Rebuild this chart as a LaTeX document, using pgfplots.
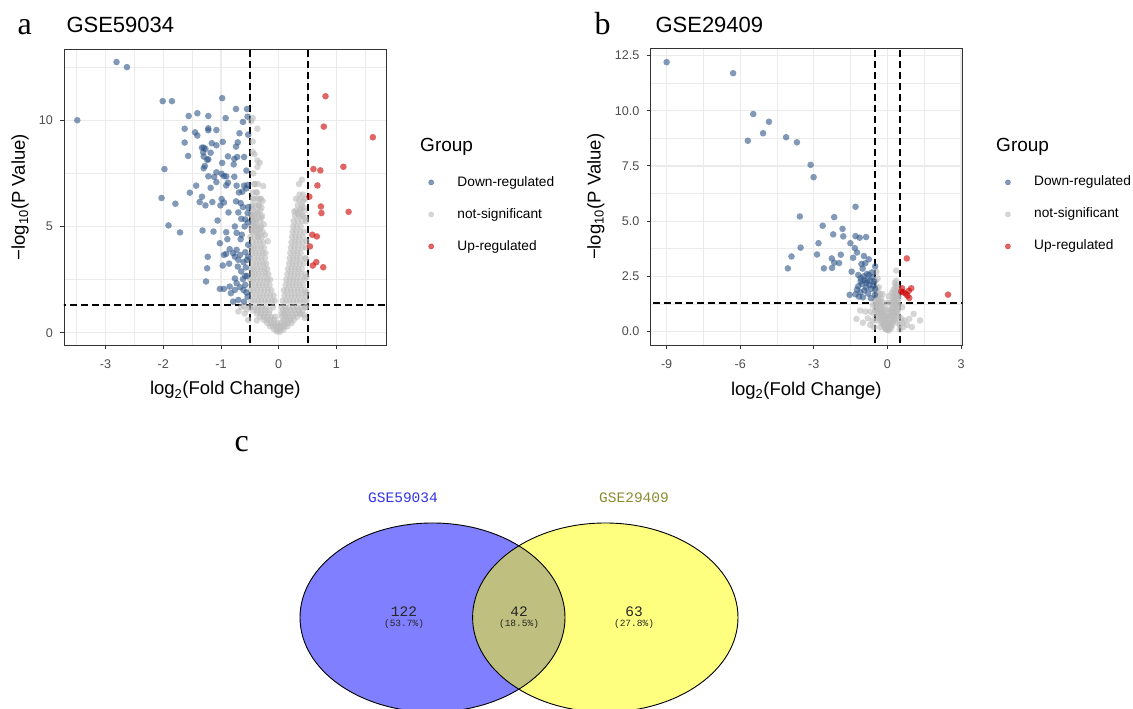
\documentclass[border=0pt]{standalone}
\usepackage{fontspec}
\setmainfont{Liberation Sans}
\newfontfamily\panelfont{Liberation Serif}
\newfontfamily\vennfont{Liberation Mono}
\usepackage{pgfplots}
\pgfplotsset{compat=1.18}
\definecolor{downc}{HTML}{2F5688}
\definecolor{nsc}{HTML}{BBBBBB}
\definecolor{upc}{HTML}{CC0000}
\definecolor{gridc}{HTML}{EBEBEB}
\definecolor{framec}{HTML}{333333}
\definecolor{tickc}{HTML}{4D4D4D}
\definecolor{vblue}{RGB}{0,0,255}
\definecolor{vyellow}{RGB}{255,255,0}
\definecolor{vlabA}{HTML}{3333E6}
\definecolor{vlabB}{HTML}{8B8B30}

\pgfplotsset{
  volcano/.style={
    scale only axis, anchor=north west, clip=true,
    axis line style={draw=framec, line width=0.9pt},
    tick pos=left, tick align=outside,
    major tick length=4pt, minor tick length=0pt,
    every tick/.style={draw=framec, line width=0.9pt},
    grid=both,
    major grid style={draw=gridc, line width=1.2pt},
    minor grid style={draw=gridc, line width=0.6pt},
    tick label style={font=\fontsize{12.6}{14}\selectfont, text=tickc, inner sep=0pt},
    xticklabel style={yshift=-10.3pt},
    yticklabel style={xshift=-7pt},
    every axis x label/.style={at={(axis description cs:0.5,-0.169)}, anchor=base,
      font=\fontsize{18.5}{20}\selectfont},
    xlabel={log\textsubscript{2}(Fold Change)},
    ylabel={−log\textsubscript{10}(P Value)},
    legend style={anchor=north west, draw=none, fill=none, inner sep=0pt, outer sep=0pt,
      inner xsep=0pt, inner ysep=0pt,
      row sep=19pt, column sep=23.5pt, font=\fontsize{13.7}{15}\selectfont,
      cells={anchor=base west},
      nodes={inner sep=0pt, anchor=base west, text height=10pt, text depth=3pt}},
  },
  ns/.style={only marks, mark=*, mark size=3.3pt, forget plot, color=nsc,
    mark options={draw opacity=0, fill=nsc, fill opacity=0.6}},
  down/.style={only marks, mark=*, mark size=3.3pt, forget plot, color=downc,
    mark options={draw opacity=0, fill=downc, fill opacity=0.6}},
  up/.style={only marks, mark=*, mark size=3.3pt, forget plot, color=upc,
    mark options={draw opacity=0, fill=upc, fill opacity=0.6}},
  cut/.style={black, line width=1.8pt, dash pattern=on 7pt off 4pt, forget plot},
  keydown/.style={legend image code/.code={\fill[downc, opacity=0.6] (2.6pt,3.6pt) circle (2.6pt);}},
  keyns/.style={legend image code/.code={\fill[nsc, opacity=0.6] (2.6pt,3.6pt) circle (2.6pt);}},
  keyup/.style={legend image code/.code={\fill[upc, opacity=0.6] (2.6pt,3.6pt) circle (2.6pt);}},
}

\begin{document}
\begin{tikzpicture}
\path[use as bounding box] (0pt,0pt) rectangle (1133pt,709pt);

% ---------------- panel a ----------------
\node[anchor=base west, font=\panelfont\fontsize{32}{34}\selectfont] at (14pt,674pt) {a};
\node[anchor=base west, font=\fontsize{22}{24}\selectfont] at (63pt,676pt) {GSE59034};
\begin{axis}[volcano,
  at={(64pt,659.7pt)}, width=322.7pt, height=295.7pt,
  xmin=-3.72, xmax=1.87, ymin=-0.58, ymax=13.34,
  xtick={-3,-2,-1,0,1}, xticklabels={-3,-2,-1,0,1},
  ytick={0,5,10}, yticklabels={0,5,10},
  minor xtick={-3.5,-2.5,-1.5,-0.5,0.5,1.5}, minor ytick={2.5,7.5,12.5},
  every axis y label/.style={at={(axis description cs:-0.121,0.5)}, rotate=90, anchor=base,
    font=\fontsize{18.5}{20}\selectfont},
  legend style={at={(axis description cs:1.1292,0.5715)}},
]
% not significant
\addplot[ns] coordinates {
(-0.45,10.1)(-0.48,9.95)(-0.37,9.6)(-0.45,9.0)(-0.45,8.5)(-0.42,8.4)(-0.37,8.1)(-0.33,8.0)
(-0.37,7.8)(-0.27,6.9)(-0.45,6.3)(-0.33,6.3)(-0.28,6.2)(-0.3,5.9)(-0.48,5.6)(-0.44,5.5)
(-0.36,5.6)(-0.3,5.4)(-0.45,5.2)(-0.4,5.0)(-0.32,4.9)(-0.47,4.8)(-0.38,4.7)(-0.35,4.5)
(-0.42,7.0)(-0.38,6.6)(-0.35,6.0)(-0.47,5.9)(-0.41,5.3)(-0.26,5.1)(-0.24,4.6)(-0.19,4.3)
(0.4,7.2)(0.35,7.0)(0.3,6.3)(0.36,6.25)(0.42,6.2)(0.45,6.3)(0.27,5.7)(0.33,5.6)(0.4,5.5)
(0.46,5.4)(0.38,5.8)(0.43,5.9)(0.48,4.3)(0.47,3.5)(0.48,2.6)(0.48,1.9)(0.47,1.2)
(-0.48,1.5)(-0.42,1.5)(-0.36,1.5)(-0.3,1.5)(-0.24,1.5)(-0.18,1.5)(-0.12,1.5)(-0.07,1.5)
(-0.46,1.75)(-0.39,1.75)(-0.33,1.75)(-0.27,1.75)(-0.21,1.75)(-0.15,1.75)(-0.09,1.75)
(-0.49,2.0)(-0.43,2.0)(-0.37,2.0)(-0.31,2.0)(-0.25,2.0)(-0.19,2.0)(-0.13,2.0)
(-0.47,2.25)(-0.4,2.25)(-0.34,2.25)(-0.28,2.25)(-0.22,2.25)(-0.16,2.25)
(-0.49,2.5)(-0.44,2.5)(-0.38,2.5)(-0.32,2.5)(-0.26,2.5)(-0.2,2.5)(-0.15,2.5)
(-0.46,2.75)(-0.41,2.75)(-0.35,2.75)(-0.29,2.75)(-0.23,2.75)(-0.18,2.75)
(-0.48,3.0)(-0.43,3.0)(-0.37,3.0)(-0.31,3.0)(-0.25,3.0)(-0.2,3.0)
(-0.45,3.25)(-0.39,3.25)(-0.33,3.25)(-0.27,3.25)(-0.22,3.25)
(-0.49,3.5)(-0.42,3.5)(-0.36,3.5)(-0.3,3.5)(-0.24,3.5)
(-0.46,3.75)(-0.4,3.75)(-0.34,3.75)(-0.28,3.75)(-0.23,3.75)
(-0.48,4.0)(-0.43,4.0)(-0.37,4.0)(-0.31,4.0)(-0.26,4.0)
(-0.45,4.25)(-0.39,4.25)(-0.33,4.25)(-0.27,4.25)
(-0.49,4.5)(-0.42,4.5)(-0.36,4.5)(-0.3,4.5)
(-0.46,4.75)(-0.4,4.75)(-0.34,4.75)(-0.28,4.75)
(-0.48,5.0)(-0.43,5.0)(-0.37,5.0)(-0.31,5.0)
(-0.45,5.25)(-0.39,5.25)(-0.33,5.25)
(-0.47,5.5)(-0.41,5.5)(-0.35,5.5)(-0.29,5.5)
(-0.44,5.75)(-0.38,5.75)(-0.32,5.75)
(-0.46,6.0)(-0.4,6.0)(-0.34,6.0)
(-0.43,6.3)(-0.37,6.3)(-0.31,6.3)
(-0.45,6.6)(-0.39,6.6)(-0.42,7.0)(-0.36,7.0)(-0.44,7.5)
(0.07,1.5)(0.13,1.5)(0.19,1.5)(0.25,1.5)(0.31,1.5)(0.37,1.5)(0.43,1.5)(0.48,1.5)
(0.1,1.75)(0.16,1.75)(0.22,1.75)(0.28,1.75)(0.34,1.75)(0.4,1.75)(0.46,1.75)
(0.09,2.0)(0.15,2.0)(0.21,2.0)(0.27,2.0)(0.33,2.0)(0.39,2.0)(0.45,2.0)
(0.12,2.25)(0.18,2.25)(0.24,2.25)(0.3,2.25)(0.36,2.25)(0.42,2.25)
(0.13,2.5)(0.19,2.5)(0.25,2.5)(0.31,2.5)(0.37,2.5)(0.44,2.5)
(0.15,2.75)(0.21,2.75)(0.27,2.75)(0.33,2.75)(0.39,2.75)(0.46,2.75)
(0.16,3.0)(0.22,3.0)(0.28,3.0)(0.34,3.0)(0.4,3.0)
(0.18,3.25)(0.24,3.25)(0.3,3.25)(0.36,3.25)(0.43,3.25)
(0.19,3.5)(0.25,3.5)(0.31,3.5)(0.37,3.5)(0.45,3.5)
(0.2,3.75)(0.26,3.75)(0.32,3.75)(0.38,3.75)
(0.21,4.0)(0.27,4.0)(0.33,4.0)(0.4,4.0)(0.47,4.0)
(0.22,4.25)(0.28,4.25)(0.34,4.25)(0.41,4.25)
(0.23,4.5)(0.29,4.5)(0.35,4.5)(0.42,4.5)
(0.24,4.75)(0.3,4.75)(0.37,4.75)(0.44,4.75)
(0.25,5.0)(0.31,5.0)(0.38,5.0)
(0.26,5.25)(0.33,5.25)(0.4,5.25)(0.47,5.25)
(0.28,5.5)(0.35,5.5)(0.42,5.5)
(0.3,5.75)(0.37,5.75)(0.44,5.75)
(0.33,6.0)(0.4,6.0)(0.36,6.5)(0.42,6.5)
(-0.03,0.05)(0.02,0.05)
(-0.08,0.15)(-0.03,0.15)(0.03,0.15)(0.08,0.15)
(-0.15,0.3)(-0.1,0.3)(-0.05,0.3)(0,0.3)(0.05,0.3)(0.1,0.3)(0.15,0.3)
(-0.2,0.45)(-0.14,0.45)(-0.08,0.45)(-0.02,0.45)(0.04,0.45)(0.1,0.45)(0.16,0.45)(0.22,0.45)
(-0.26,0.6)(-0.2,0.6)(-0.14,0.6)(-0.08,0.6)(0.08,0.6)(0.14,0.6)(0.2,0.6)(0.26,0.6)
(-0.32,0.75)(-0.26,0.75)(-0.2,0.75)(-0.13,0.75)(-0.06,0.75)(0.06,0.75)(0.12,0.75)(0.18,0.75)(0.25,0.75)(0.32,0.75)
(-0.38,0.9)(-0.31,0.9)(-0.24,0.9)(-0.17,0.9)(0.05,0.9)(0.1,0.9)(0.16,0.9)(0.23,0.9)(0.3,0.9)(0.37,0.9)
(-0.44,1.05)(-0.37,1.05)(-0.3,1.05)(-0.23,1.05)(-0.16,1.05)(0.07,1.05)(0.13,1.05)(0.2,1.05)(0.27,1.05)(0.34,1.05)(0.41,1.05)
(-0.5,1.2)(-0.43,1.2)(-0.36,1.2)(-0.29,1.2)(-0.22,1.2)(-0.1,1.2)(0.05,1.2)(0.11,1.2)(0.18,1.2)(0.25,1.2)(0.32,1.2)(0.39,1.2)(0.46,1.2)
(-0.65,1.2)(-0.59,0.9)(-0.38,0.58)(0.37,0.9)(0.44,0.83)(-0.55,1.1)(-0.6,1.25)(-0.53,0.6)(0.45,0.7)(-0.7,1.0)
};
% down-regulated
\addplot[down] coordinates {
(-2.81,12.74)(-2.63,12.5)(-3.49,10.0)(-2.01,10.9)(-1.85,10.9)(-0.98,11.04)(-0.74,10.53)
(-0.55,10.53)(-1.41,10.33)(-1.56,10.2)(-1.22,10.2)(-0.92,10.1)(-0.54,10.17)(-0.62,9.92)
(-1.63,9.6)(-1.45,9.43)(-1.41,9.28)(-1.22,9.62)(-1.22,9.53)(-1.08,9.54)(-0.68,9.39)
(-0.53,9.32)(-1.63,8.95)(-1.16,8.92)(-1.08,8.82)(-0.97,8.98)(-0.74,8.76)(-0.71,8.96)
(-1.33,8.71)(-1.30,8.71)(-1.27,8.65)(-1.31,8.49)(-1.18,8.47)(-1.57,8.32)(-1.30,8.29)
(-1.22,8.16)(-1.24,8.14)(-0.88,8.3)(-0.72,8.27)(-0.60,8.27)(-0.77,8.18)(-0.78,7.92)
(-0.98,7.99)(-1.28,7.85)(-1.30,7.74)(-1.98,7.70)(-0.56,7.63)(-1.08,7.55)(-0.99,7.48)
(-0.95,7.37)(-0.91,7.36)(-1.22,7.36)(-1.12,7.33)(-0.77,7.34)(-1.08,7.09)(-0.88,7.06)
(-1.43,6.92)(-1.18,6.82)(-0.91,6.93)(-0.73,6.92)(-0.60,6.92)(-0.54,6.95)(-0.69,6.6)
(-0.63,6.64)(-0.56,6.79)(-1.54,6.59)(-2.03,6.34)(-1.33,6.4)(-0.74,6.18)(-0.66,6.1)
(-1.79,6.07)(-1.37,6.15)(-1.15,6.15)(-0.99,6.29)(-0.95,6.13)(-1.27,5.99)(-1.01,5.99)
(-0.62,5.91)(-0.53,5.91)(-0.87,5.66)(-0.70,5.66)(-0.54,5.63)(-0.65,5.36)(-0.58,5.33)
(-1.06,5.28)(-0.53,5.19)(-1.91,5.05)(-0.76,5.0)(-0.59,5.0)(-1.71,4.72)(-1.32,4.81)
(-1.13,4.76)(-0.91,4.73)(-0.73,4.70)(-0.64,4.61)(-0.66,4.40)(-0.89,4.40)(-1.02,4.21)
(-0.53,4.14)(-0.85,3.93)(-0.73,3.9)(-0.79,3.74)(-0.67,3.66)(-0.95,3.66)(-0.91,3.71)
(-1.23,3.57)(-0.55,3.43)(-0.61,3.32)(-0.86,3.25)(-0.97,3.16)(-1.24,3.03)(-0.71,3.11)
(-0.57,3.07)(-0.65,2.88)(-0.55,2.67)(-0.76,2.55)(-1.26,2.41)(-0.62,2.52)(-0.73,2.33)
(-0.58,2.25)(-0.85,2.17)(-0.95,2.06)(-0.83,1.86)(-0.76,2.01)(-0.67,2.14)(-0.56,1.89)
(-0.70,1.54)(-0.54,1.70)(-0.60,1.46)(-0.79,1.46)(-0.61,2.01)(-1.02,2.06)(-0.58,2.67)
(-0.70,3.43)(-0.76,3.58)(-0.53,3.58)(-0.58,3.79)
};
% up-regulated
\addplot[up] coordinates {
(0.81,11.13)(0.78,9.70)(1.63,9.20)(0.60,7.70)(0.72,7.64)(1.12,7.81)(0.67,6.93)(0.53,6.40)
(0.73,5.94)(0.74,5.63)(1.21,5.69)(0.58,4.61)(0.66,4.53)(0.54,4.06)(0.65,3.32)(0.59,3.16)
(0.77,3.08)
};
\addplot[cut] coordinates {(-0.5,-1)(-0.5,14)};
\addplot[cut] coordinates {(0.5,-1)(0.5,14)};
\addplot[cut] coordinates {(-4,1.301)(2,1.301)};
\addlegendimage{keydown}\addlegendentry{Down-regulated}
\addlegendimage{keyns}\addlegendentry{not-significant}
\addlegendimage{keyup}\addlegendentry{Up-regulated}
\end{axis}
\node[anchor=base west, font=\fontsize{19}{21}\selectfont] at (416.7pt,557pt) {Group};

% ---------------- panel b ----------------
\node[anchor=base west, font=\panelfont\fontsize{32}{34}\selectfont] at (591pt,674pt) {b};
\node[anchor=base west, font=\fontsize{22}{24}\selectfont] at (652pt,676pt) {GSE29409};
\begin{axis}[volcano,
  at={(650.7pt,660.3pt)}, width=311.3pt, height=296.3pt,
  xmin=-9.65, xmax=3.04, ymin=-0.61, ymax=12.81,
  xtick={-9,-6,-3,0,3}, xticklabels={-9,-6,-3,0,3},
  ytick={0,2.5,5,7.5,10,12.5}, yticklabels={0.0,2.5,5.0,7.5,10.0,12.5},
  minor xtick={-7.5,-4.5,-1.5,1.5}, minor ytick={1.25,3.75,6.25,8.75,11.25},
  every axis y label/.style={at={(axis description cs:-0.161,0.5)}, rotate=90, anchor=base,
    font=\fontsize{18.5}{20}\selectfont},
  legend style={at={(axis description cs:1.1385,0.5704)}},
]
\addplot[ns] coordinates {
(0.36,2.76)(0.3,2.2)(0.35,2.1)(0.25,1.9)(0.4,1.7)(-0.45,2.7)(-0.4,2.4)(-0.35,2.0)(-0.3,1.7)
(-0.25,1.5)(-0.2,1.3)(-0.15,1.1)(-0.1,0.9)(-0.05,0.6)(0,0.2)(0.05,0.4)(0.1,0.7)(0.15,0.9)
(0.2,1.1)(0.25,1.3)(0.3,1.5)(0.35,1.2)(0.4,1.0)(0.45,0.7)(-0.45,1.2)(-0.5,1.0)(-0.55,0.8)
(-0.45,0.5)(-0.35,0.6)(-0.25,0.4)(-0.15,0.3)(-0.05,0.1)(0.05,0.05)(0.1,0.2)(0.2,0.3)
(0.3,0.5)(0.4,0.4)(0.5,0.3)(0.55,0.6)(0.6,0.4)(-0.6,0.5)(-0.7,0.3)(-0.8,0.6)(-0.9,0.9)
(-1.11,0.95)(-1.26,0.57)(-1.0,0.4)(0.7,0.5)(0.89,0.57)(1.07,0.8)(1.33,0.5)(0.8,0.3)(1.0,0.2)
(-0.4,1.45)(-0.3,1.1)(-0.2,0.8)(-0.1,0.5)(0.0,0.7)(0.1,1.0)(0.2,1.5)(0.28,1.75)(0.12,1.3)
(-0.05,1.0)(-0.5,1.4)(-0.38,0.9)(0.15,0.15)(-0.1,0.15)(0.25,0.9)(0.33,0.8)(-0.6,1.2)
(-0.7,0.9)(0.6,1.1)(0.5,0.1)(-0.3,0.2)(0.0,1.3)(0.45,1.5)(-0.55,0.2)(0.65,0.2)(0.05,1.6)
(-0.2,1.7)(-0.33,1.35)(0.18,1.75)
(-0.05,0.1)(0.05,0.1)
(-0.12,0.25)(-0.04,0.25)(0.04,0.25)(0.12,0.25)
(-0.2,0.4)(-0.12,0.4)(-0.04,0.4)(0.04,0.4)(0.12,0.4)(0.2,0.4)
(-0.28,0.55)(-0.2,0.55)(-0.12,0.55)(0.12,0.55)(0.2,0.55)(0.28,0.55)
(-0.35,0.7)(-0.27,0.7)(-0.19,0.7)(-0.1,0.7)(0.1,0.7)(0.18,0.7)(0.26,0.7)(0.34,0.7)
(-0.42,0.85)(-0.33,0.85)(-0.25,0.85)(-0.15,0.85)(0.15,0.85)(0.23,0.85)(0.31,0.85)(0.4,0.85)
(-0.45,1.0)(-0.37,1.0)(-0.29,1.0)(-0.2,1.0)(0.2,1.0)(0.28,1.0)(0.36,1.0)(0.44,1.0)
(-0.48,1.2)(-0.4,1.2)(-0.32,1.2)(-0.24,1.2)(0.24,1.2)(0.32,1.2)(0.4,1.2)(0.47,1.2)
(-0.46,1.4)(-0.38,1.4)(-0.3,1.4)(0.26,1.4)(0.34,1.4)(0.42,1.4)
(-0.44,1.6)(-0.36,1.6)(0.28,1.6)(0.37,1.6)(0.45,1.6)
(-0.47,1.8)(-0.4,1.8)(0.3,1.8)(0.39,1.8)
(-0.45,2.0)(0.33,2.0)(0.42,2.0)(-0.48,2.3)(0.36,2.3)
};
\addplot[down] coordinates {
(-9.0,12.2)(-6.29,11.70)(-5.47,9.85)(-4.83,9.50)(-5.07,8.98)(-5.69,8.64)(-4.13,8.80)
(-3.69,8.57)(-3.13,7.55)(-3.01,6.99)(-1.30,5.65)(-3.57,5.21)(-2.17,5.18)(-2.64,4.79)
(-1.83,4.65)(-1.30,4.32)(-2.21,4.40)(-1.80,4.31)(-1.13,4.25)(-0.87,4.28)(-2.81,4.0)
(-1.51,4.0)(-3.54,3.80)(-1.33,3.78)(-2.87,3.49)(-1.90,3.48)(-1.24,3.58)(-3.91,3.40)
(-2.27,3.31)(-1.40,3.34)(-0.96,3.42)(-0.76,3.27)(-2.17,3.12)(-1.97,3.10)(-1.06,3.06)
(-0.91,3.09)(-0.50,2.95)(-4.06,2.86)(-2.59,2.86)(-2.26,2.88)(-1.01,2.85)(-1.46,2.71)
(-1.19,2.56)(-0.97,2.50)(-0.76,2.56)(-0.61,2.45)(-0.83,2.30)(-1.04,2.15)(-0.73,2.11)
(-0.54,2.26)(-0.87,1.99)(-0.66,1.93)(-1.09,2.41)(-1.19,2.05)(-1.54,1.66)(-1.30,1.69)
(-1.16,1.58)(-1.0,1.55)(-0.79,1.72)(-0.67,1.51)(-0.51,1.66)(-0.94,1.86)(-0.57,2.08)
(-0.86,2.20)(-0.69,2.30)(-0.50,1.93)(-1.10,1.78)(-1.24,1.90)(-0.63,2.68)(-0.83,2.61)
(-0.93,2.33)(-1.09,2.27)
};
\addplot[up] coordinates {
(0.79,3.31)(0.60,1.96)(0.97,1.96)(0.64,1.78)(0.74,1.72)(0.87,1.84)(0.89,1.52)(0.81,1.63)
(2.47,1.67)(0.56,1.81)
};
\addplot[cut] coordinates {(-0.5,-1)(-0.5,14)};
\addplot[cut] coordinates {(0.5,-1)(0.5,14)};
\addplot[cut] coordinates {(-10,1.301)(4,1.301)};
\addlegendimage{keydown}\addlegendentry{Down-regulated}
\addlegendimage{keyns}\addlegendentry{not-significant}
\addlegendimage{keyup}\addlegendentry{Up-regulated}
\end{axis}
\node[anchor=base west, font=\fontsize{19}{21}\selectfont] at (992.7pt,557pt) {Group};

% ---------------- panel c (Venn) ----------------
\node[anchor=base west, font=\panelfont\fontsize{32}{34}\selectfont] at (231pt,257pt) {c};
\begin{axis}[at={(0pt,0pt)}, anchor=south west, scale only axis, width=1133pt, height=709pt,
  xmin=0, xmax=1133, ymin=0, ymax=709, hide axis, clip=false]
\fill[vblue, fill opacity=0.5] (axis cs:432.5,91.5) ellipse [x radius=132.5, y radius=94.5];
\fill[vyellow, fill opacity=0.5] (axis cs:605.3,91.5) ellipse [x radius=132.7, y radius=94.5];
\draw[black, line width=0.9pt] (axis cs:432.5,91.5) ellipse [x radius=132.5, y radius=94.5];
\draw[black, line width=0.9pt] (axis cs:605.3,91.5) ellipse [x radius=132.7, y radius=94.5];
\node[font=\vennfont\fontsize{14.5}{16}\selectfont, text=vlabA] at (axis cs:403,211) {GSE59034};
\node[font=\vennfont\fontsize{14.5}{16}\selectfont, text=vlabB] at (axis cs:634,211) {GSE29409};
\begin{scope}[every node/.style={inner sep=0pt, text=black!85}]
\node[font=\vennfont\fontsize{14.5}{15}\selectfont, anchor=base] at (axis cs:404,92) {122};
\node[font=\vennfont\fontsize{9.5}{10}\selectfont, anchor=base] at (axis cs:404,82.5) {(53.7\%)};
\node[font=\vennfont\fontsize{14.5}{15}\selectfont, anchor=base] at (axis cs:519,92) {42};
\node[font=\vennfont\fontsize{9.5}{10}\selectfont, anchor=base] at (axis cs:519,82.5) {(18.5\%)};
\node[font=\vennfont\fontsize{14.5}{15}\selectfont, anchor=base] at (axis cs:634,92) {63};
\node[font=\vennfont\fontsize{9.5}{10}\selectfont, anchor=base] at (axis cs:634,82.5) {(27.8\%)};
\end{scope}
\end{axis}
\end{tikzpicture}
\end{document}
